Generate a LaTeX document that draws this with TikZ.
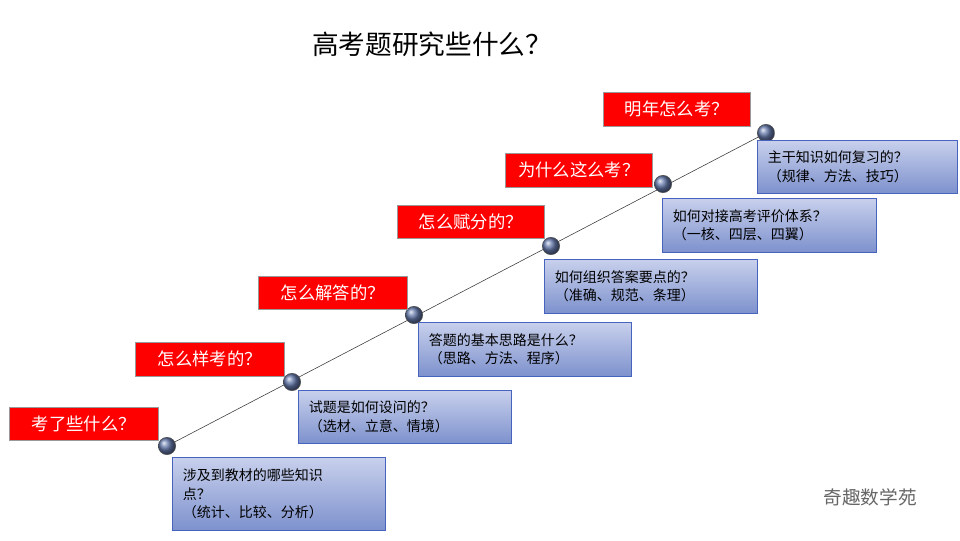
\documentclass[tikz,border=0pt]{standalone}
\usepackage{fontspec}
\setmainfont{Noto Sans CJK SC}
\usetikzlibrary{shadings}
\definecolor{btop}{RGB}{200,208,236}
\definecolor{bbot}{RGB}{125,145,205}
\begin{document}
\begin{tikzpicture}[x=0.75pt,y=-0.75pt,
  red/.style={draw=black!40,fill=red,text=white,font=\fontsize{13}{15}\selectfont,anchor=north west,inner sep=0pt,align=center},
  blue/.style={draw={rgb,255:red,70;green,100;blue,190},top color=btop,bottom color=bbot,font=\fontsize{10.5}{14}\selectfont,align=left,anchor=north west,inner xsep=8pt,inner ysep=0pt},
  ball/.style={circle,draw=black!70,inner sep=0pt,minimum size=13pt,ball color={rgb,255:red,100;green,120;blue,170}}]
\useasboundingbox (0,0) rectangle (960,540);
\node[font=\fontsize{20}{24}\selectfont] (t) at (432,44) {高考题研究些什么？};
\foreach \n/\x/\y in {b1/167/446,b2/292/382,b3/414/315,b4/551/246,b5/663/184,b6/766/133}
  \coordinate (\n) at (\x,\y);
\draw[black!80] (b1) -- (b6);
\foreach \n in {b1,b2,b3,b4,b5,b6} \node[ball] at (\n) {};
\node[red,minimum width=149*0.75pt,minimum height=33*0.75pt] (r1) at (9,407) {考了些什么？};
\node[red,minimum width=149*0.75pt,minimum height=34*0.75pt] (r2) at (135,342) {怎么样考的？};
\node[red,minimum width=149*0.75pt,minimum height=33*0.75pt] (r3) at (258,276) {怎么解答的？};
\node[red,minimum width=147*0.75pt,minimum height=33*0.75pt] (r4) at (397,205) {怎么赋分的？};
\node[red,minimum width=147*0.75pt,minimum height=34*0.75pt] (r5) at (505,153) {为什么这么考？};
\node[red,minimum width=147*0.75pt,minimum height=34*0.75pt] (r6) at (603,92) {明年怎么考？};
\node[blue,minimum height=73*0.75pt,text width=192*0.75pt] (u1) at (172,457) {涉及到教材的哪些知识\\点？\\（统计、比较、分析）};
\node[blue,minimum height=53*0.75pt,text width=192*0.75pt] (u2) at (298,390) {试题是如何设问的？\\（选材、立意、情境）};
\node[blue,minimum height=54*0.75pt,text width=192*0.75pt] (u3) at (418,322) {答题的基本思路是什么？\\（思路、方法、程序）};
\node[blue,minimum height=54*0.75pt,text width=192*0.75pt] (u4) at (544,259) {如何组织答案要点的？\\（准确、规范、条理）};
\node[blue,minimum height=54*0.75pt,text width=193*0.75pt] (u5) at (662,198) {如何对接高考评价体系？\\（一核、四层、四翼）};
\node[blue,minimum height=53*0.75pt,text width=179*0.75pt] (u6) at (757,140) {主干知识如何复习的？\\（规律、方法、技巧）};
\node[text=black!60,font=\fontsize{14}{16}\selectfont] (w) at (870,497) {奇趣数学苑};
\end{tikzpicture}
\end{document}
